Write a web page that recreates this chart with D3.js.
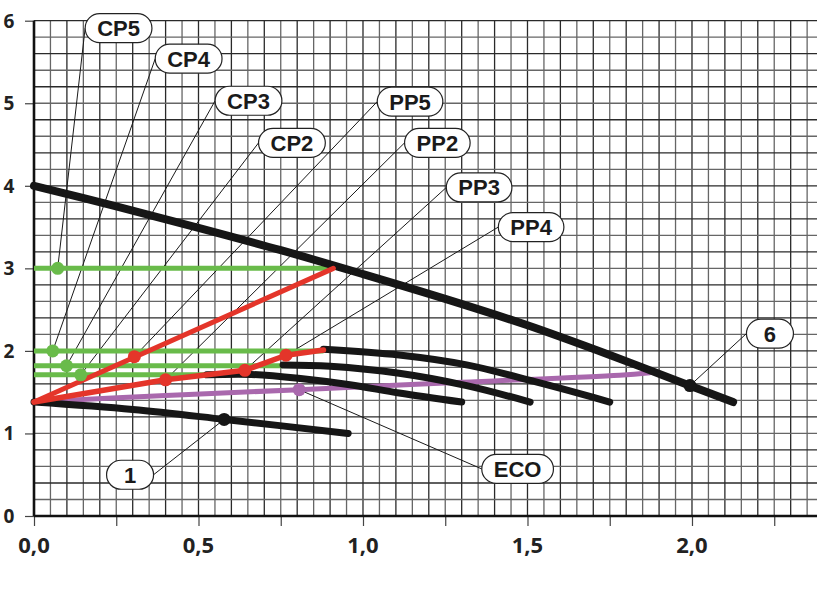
<!DOCTYPE html>
<html>
<head>
<meta charset="utf-8">
<script src="https://cdn.jsdelivr.net/npm/d3@7"></script>
<style>
  html, body { margin: 0; padding: 0; background: #fff; }
  svg { display: block; }
</style>
</head>
<body>
<svg id="chart" width="817" height="604"></svg>
<script>
// ---------- DATA ----------
const xLabelValues = [0, 0.5, 1.0, 1.5, 2.0];
const xLabelTexts = ["0,0", "0,5", "1,0", "1,5", "2,0"];
const xTickValues = [0, 0.25, 0.5, 0.75, 1.0, 1.25, 1.5, 1.75, 2.0, 2.25];
const yTickValues = [0, 1, 2, 3, 4, 5, 6];
const yLabelTexts = ["0", "1", "2", "3", "4", "5", "6"];

// black characteristic curves
const curveMax6 = [[0,4.0],[0.25,3.75],[0.5,3.49],[0.75,3.22],[1.0,2.93],[1.25,2.63],[1.5,2.31],[1.75,1.95],[2.0,1.57],[2.125,1.38]];
const curveMin1 = [[0,1.38],[0.3,1.29],[0.58,1.17],[0.955,1.0]];
const curveHigh = [[0.88,2.02],[1.11,1.95],[1.315,1.83],[1.52,1.63],[1.67,1.47],[1.75,1.38]];
const curveMid  = [[0.757,1.83],[0.9,1.815],[1.11,1.73],[1.315,1.58],[1.508,1.38]];
const curveLow  = [[0.525,1.71],[0.66,1.715],[0.81,1.665],[0.96,1.59],[1.11,1.49],[1.3,1.38]];
// purple ECO curve
const curveEco  = [[0,1.38],[0.4,1.46],[0.806,1.53],[1.3,1.62],[1.78,1.705],[1.872,1.735]];
// green constant-pressure lines
const cpLevels = [3.0, 2.0, 1.82, 1.71];
const cpEndX   = [0.91, 0.88, 0.757, 0.525];
const cpMarkX  = [0.072, 0.057, 0.099, 0.142];
// red proportional-pressure lines
const ppSteep  = [[0,1.38],[0.91,3.0]];
const ppLine   = [[0,1.38],[0.4,1.65],[0.641,1.765],[0.766,1.947],[0.88,2.01]];
const redMarks = [[0.305,1.93],[0.4,1.65],[0.641,1.765],[0.766,1.947]];
const purpleMarks = [[0.806,1.53]];
const blackMarks = [[0.578,1.17],[1.994,1.58]];

// callouts: label text, target point, label anchor (data units), leader side
const calloutLabels  = ["CP5","CP4","CP3","CP2","PP5","PP2","PP3","PP4","ECO","1","6"];
const calloutTargets = [[0.072,3.0],[0.057,2.0],[0.099,1.82],[0.142,1.71],[0.305,1.93],[0.4,1.65],[0.641,1.765],[0.766,1.947],[0.806,1.53],[0.578,1.17],[1.994,1.58]];
const calloutAnchors = [[0.257,5.91],[0.470,5.54],[0.652,5.03],[0.784,4.52],[1.143,5.02],[1.226,4.52],[1.353,3.98],[1.511,3.50],[1.470,0.57],[0.292,0.50],[2.237,2.21]];
const calloutSides   = ["left","left","left","left","left","left","left","left","left","right","left"];

// ---------- DRAW ----------
const svg = d3.select("#chart");
const W = 817, H = 604;
const x = d3.scaleLinear().domain([0, 2.38]).range([34, 817]);
const y = d3.scaleLinear().domain([0, 6]).range([516, 20.7]);

svg.append("rect").attr("class", "bg").attr("width", W).attr("height", H).attr("fill", "#fff");

// grid
const grid = svg.append("g");
const vLines = d3.range(0, 2.3501, 0.05);
grid.selectAll("line.v").data(vLines).join("line")
  .attr("x1", d => x(d)).attr("x2", d => x(d))
  .attr("y1", y(6)).attr("y2", y(0))
  .attr("stroke", (d, i) => i % 2 ? "#666" : "#2a2a2a")
  .attr("stroke-width", 1.3);
const hLines = d3.range(0, 6.001, 0.2);
grid.selectAll("line.h").data(hLines).join("line")
  .attr("x1", x(0)).attr("x2", W)
  .attr("y1", d => y(d)).attr("y2", d => y(d))
  .attr("stroke", (d, i) => i % 2 ? "#666" : "#2a2a2a")
  .attr("stroke-width", 1.3);

// axes
const xAxis = d3.axisBottom(x).tickValues(xTickValues).tickSize(10).tickFormat("");
const gx = svg.append("g").attr("transform", `translate(0,${y(0)})`).call(xAxis);
gx.select(".domain").remove();
gx.selectAll(".tick line").attr("stroke", "#444").attr("stroke-width", 1.2);

const yAxis = d3.axisLeft(y).tickValues(yTickValues).tickSize(9).tickFormat("");
const gy = svg.append("g").attr("transform", `translate(${x(0)},0)`).call(yAxis);
gy.select(".domain").remove();
gy.selectAll(".tick line").attr("stroke", "#444").attr("stroke-width", 1.2);

svg.append("line").attr("x1", x(0)).attr("x2", W).attr("y1", y(0)).attr("y2", y(0))
  .attr("stroke", "#111").attr("stroke-width", 2.6);
svg.append("line").attr("x1", x(0)).attr("x2", x(0)).attr("y1", y(6)).attr("y2", y(0))
  .attr("stroke", "#111").attr("stroke-width", 2.6);

svg.append("g").selectAll("text").data(xLabelValues).join("text")
  .attr("x", d => x(d)).attr("y", 553)
  .attr("text-anchor", "middle")
  .attr("font-family", "'Open Sans', sans-serif").attr("font-weight", 700)
  .attr("font-size", 22).attr("fill", "#222")
  .text((d, i) => xLabelTexts[i]);
svg.append("g").selectAll("text").data(yTickValues).join("text")
  .attr("x", 9).attr("y", d => y(d) + 6.8)
  .attr("text-anchor", "middle")
  .attr("font-family", "'Open Sans', sans-serif").attr("font-weight", 700)
  .attr("font-size", 19).attr("fill", "#222")
  .text((d, i) => yLabelTexts[i]);

// leader lines
const leaders = svg.append("g");

const lineStraight = d3.line().x(d => x(d[0])).y(d => y(d[1]));
const lineSmooth = d3.line().x(d => x(d[0])).y(d => y(d[1])).curve(d3.curveCatmullRom.alpha(0.5));

// green lines
cpLevels.forEach((lv, i) => {
  svg.append("path").attr("d", lineStraight([[0, lv], [cpEndX[i], lv]]))
    .attr("fill", "none").attr("stroke", "#69bb4a").attr("stroke-width", 5);
});
// purple
svg.append("path").attr("d", lineSmooth(curveEco))
  .attr("fill", "none").attr("stroke", "#a968ad").attr("stroke-width", 5).attr("stroke-linecap", "round");
// black curves
[curveLow, curveMid, curveHigh].forEach(c => {
  svg.append("path").attr("d", lineSmooth(c))
    .attr("fill", "none").attr("stroke", "#161616").attr("stroke-width", 7).attr("stroke-linecap", "round");
});
svg.append("path").attr("d", lineSmooth(curveMin1))
  .attr("fill", "none").attr("stroke", "#161616").attr("stroke-width", 7).attr("stroke-linecap", "round");
svg.append("path").attr("d", lineSmooth(curveMax6))
  .attr("fill", "none").attr("stroke", "#161616").attr("stroke-width", 8).attr("stroke-linecap", "round");
// red
svg.append("path").attr("d", lineStraight(ppSteep))
  .attr("fill", "none").attr("stroke", "#e4352a").attr("stroke-width", 5).attr("stroke-linecap", "round");
svg.append("path").attr("d", lineStraight(ppLine))
  .attr("fill", "none").attr("stroke", "#e4352a").attr("stroke-width", 5.5).attr("stroke-linecap", "round").attr("stroke-linejoin", "round");

// markers
const markers = svg.append("g");
markers.selectAll("circle.g").data(cpLevels).join("circle")
  .attr("cx", (d, i) => x(cpMarkX[i])).attr("cy", d => y(d)).attr("r", 6.5).attr("fill", "#69bb4a");
markers.selectAll("circle.r").data(redMarks).join("circle")
  .attr("cx", d => x(d[0])).attr("cy", d => y(d[1])).attr("r", 6.5).attr("fill", "#e4352a");
markers.selectAll("circle.p").data(purpleMarks).join("circle")
  .attr("cx", d => x(d[0])).attr("cy", d => y(d[1])).attr("r", 6.5).attr("fill", "#a968ad");
markers.selectAll("circle.b").data(blackMarks).join("circle")
  .attr("cx", d => x(d[0])).attr("cy", d => y(d[1])).attr("r", 6.5).attr("fill", "#161616");

// callout pills
const pillH = 29;
calloutLabels.forEach((lab, i) => {
  const cx = x(calloutAnchors[i][0]), cy = y(calloutAnchors[i][1]);
  const g = svg.append("g");
  const t = g.append("text").attr("x", cx).attr("y", cy + 8)
    .attr("text-anchor", "middle")
    .attr("font-family", "'Liberation Sans', Arial, sans-serif").attr("font-weight", 700)
    .attr("font-size", 22).attr("fill", "#1a1a1a").text(lab);
  const tw = t.node().getComputedTextLength();
  const w = Math.max(47, tw + 24);
  const sx = calloutSides[i] === "left" ? cx - w / 2 : cx + w / 2;
  leaders.append("line").attr("x1", sx).attr("y1", cy)
    .attr("x2", x(calloutTargets[i][0])).attr("y2", y(calloutTargets[i][1]))
    .attr("stroke", "#1a1a1a").attr("stroke-width", 1);
  g.insert("rect", "text").attr("x", cx - w / 2).attr("y", cy - pillH / 2)
    .attr("width", w).attr("height", pillH).attr("rx", pillH / 2)
    .attr("fill", "#fff").attr("stroke", "#222").attr("stroke-width", 1.2);
});
leaders.lower();
grid.lower();
svg.select("rect.bg").lower();
</script>
</body>
</html>
